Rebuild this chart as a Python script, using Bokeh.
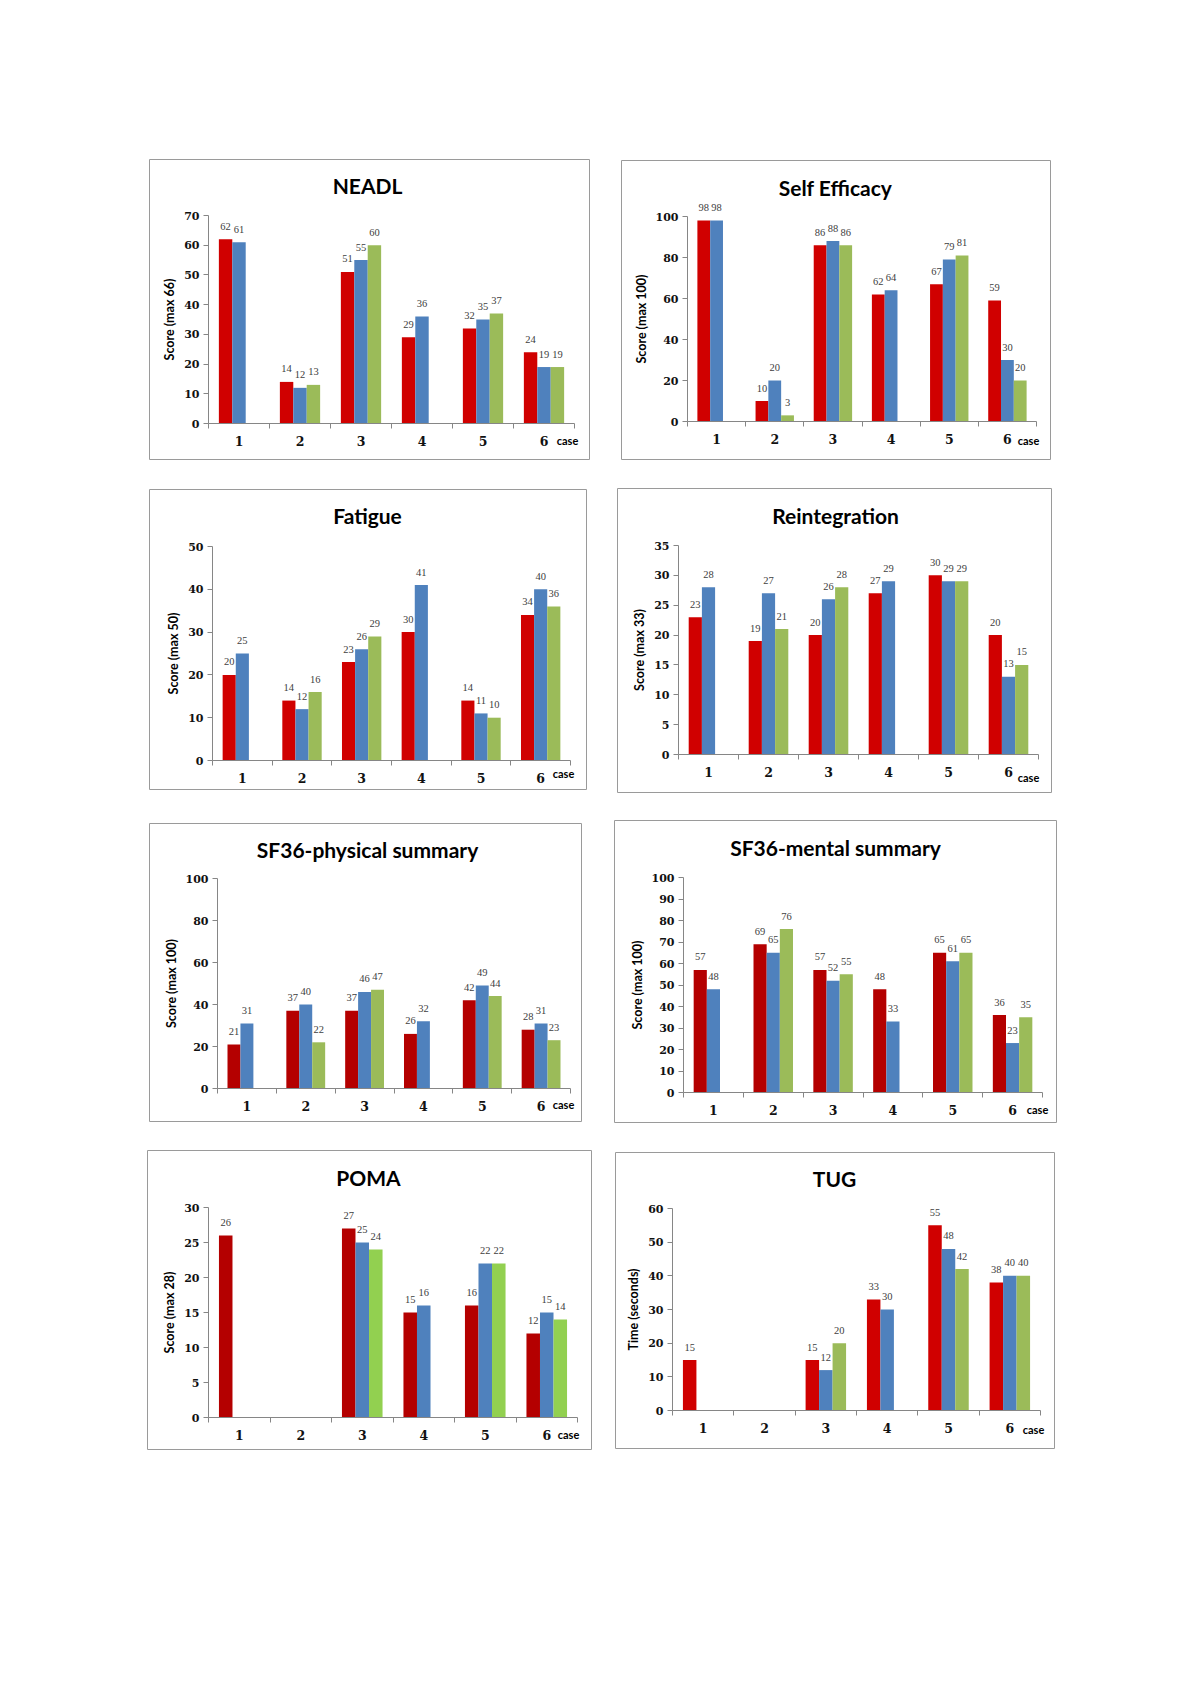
from bokeh.plotting import figure
from bokeh.models import ColumnDataSource, Range1d, FixedTicker, Label, LabelSet, Spacer
from bokeh.layouts import column, row
from bokeh.embed import file_html
from bokeh.resources import INLINE

cases = [1, 2, 3, 4, 5, 6]
case_labels = ["1", "2", "3", "4", "5", "6"]

neadl_s1 = [62, 14, 51, 29, 32, 24]
neadl_s2 = [61, 12, 55, 36, 35, 19]
neadl_s3 = [None, 13, 60, None, 37, 19]

selfeff_s1 = [98, 10, 86, 62, 67, 59]
selfeff_s2 = [98, 20, 88, 64, 79, 30]
selfeff_s3 = [None, 3, 86, None, 81, 20]

fatigue_s1 = [20, 14, 23, 30, 14, 34]
fatigue_s2 = [25, 12, 26, 41, 11, 40]
fatigue_s3 = [None, 16, 29, None, 10, 36]

reint_s1 = [23, 19, 20, 27, 30, 20]
reint_s2 = [28, 27, 26, 29, 29, 13]
reint_s3 = [None, 21, 28, None, 29, 15]

sf36p_s1 = [21, 37, 37, 26, 42, 28]
sf36p_s2 = [31, 40, 46, 32, 49, 31]
sf36p_s3 = [None, 22, 47, None, 44, 23]

sf36m_s1 = [57, 69, 57, 48, 65, 36]
sf36m_s2 = [48, 65, 52, 33, 61, 23]
sf36m_s3 = [None, 76, 55, None, 65, 35]

poma_s1 = [26, None, 27, 15, 16, 12]
poma_s2 = [None, None, 25, 16, 22, 15]
poma_s3 = [None, None, 24, None, 22, 14]

tug_s1 = [15, None, 15, 33, 55, 38]
tug_s2 = [None, None, 12, 30, 48, 40]
tug_s3 = [None, None, 20, None, 42, 40]

RED = "#D00000"
DARKRED = "#B40000"
BLUE = "#4F81BD"
GREEN = "#9BBB59"
LIME = "#92D050"

panels = [
    dict(title="NEADL", ylabel="Score (max 66)", ymax=70, ystep=10,
         series=[neadl_s1, neadl_s2, neadl_s3], colors=[RED, BLUE, GREEN],
         box=(149, 159, 441, 301), frame=(208, 215, 574, 423), t=(367, 185), c=(567, 440)),
    dict(title="Self Efficacy", ylabel="Score (max 100)", ymax=100, ystep=20,
         series=[selfeff_s1, selfeff_s2, selfeff_s3], colors=[RED, BLUE, GREEN],
         box=(621, 160, 430, 300), frame=(687, 216, 1036, 421), t=(835, 187), c=(1028, 440)),
    dict(title="Fatigue", ylabel="Score (max 50)", ymax=50, ystep=10,
         series=[fatigue_s1, fatigue_s2, fatigue_s3], colors=[RED, BLUE, GREEN],
         box=(149, 489, 438, 301), frame=(212, 546, 570, 760), t=(367, 515), c=(563, 773)),
    dict(title="Reintegration", ylabel="Score (max 33)", ymax=35, ystep=5,
         series=[reint_s1, reint_s2, reint_s3], colors=[RED, BLUE, GREEN],
         box=(617, 488, 435, 305), frame=(678, 545, 1038, 754), t=(835, 515), c=(1028, 777)),
    dict(title="SF36-physical summary", ylabel="Score (max 100)", ymax=100, ystep=20,
         series=[sf36p_s1, sf36p_s2, sf36p_s3], colors=[DARKRED, BLUE, GREEN],
         box=(149, 823, 433, 299), frame=(217, 878, 570, 1088), t=(367, 849), c=(563, 1104)),
    dict(title="SF36-mental summary", ylabel="Score (max 100)", ymax=100, ystep=10,
         series=[sf36m_s1, sf36m_s2, sf36m_s3], colors=[DARKRED, BLUE, GREEN],
         box=(614, 820, 443, 303), frame=(683, 877, 1042, 1092), t=(835, 847), c=(1037, 1109)),
    dict(title="POMA", ylabel="Score (max 28)", ymax=30, ystep=5,
         series=[poma_s1, poma_s2, poma_s3], colors=[DARKRED, BLUE, LIME],
         box=(147, 1150, 445, 300), frame=(208, 1207, 577, 1417), t=(368, 1177), c=(568, 1434)),
    dict(title="TUG", ylabel="Time (seconds)", ymax=60, ystep=10,
         series=[tug_s1, tug_s2, tug_s3], colors=[RED, BLUE, GREEN],
         box=(615, 1152, 440, 297), frame=(672, 1208, 1040, 1410), t=(834, 1178), c=(1033, 1429)),
]

OFFSETS = [-0.22, 0.0, 0.22]
BAR_W = 0.22
SANS = "Lato"
SERIF = "DejaVu Serif"
AXIS_GRAY = "#868686"
ORIGIN = 0


def make_panel(cfg):
    bx, by, bw, bh = cfg["box"]
    fl, ft, fr, fb = cfg["frame"]
    ymax = cfg["ymax"]

    # pixel -> data mapping defined by where the axes sit inside the panel box
    def xd(px):
        return 0.5 + (px - fl) / (fr - fl) * 6.0

    def yd(py):
        return ymax * (fb - py) / (fb - ft)

    p = figure(width=bw, height=bh, output_backend="svg", toolbar_location=None,
               x_range=Range1d(xd(bx), xd(bx + bw)), y_range=Range1d(yd(by + bh), yd(by)),
               min_border=0, min_border_left=0, min_border_right=0,
               min_border_top=0, min_border_bottom=0, title_location=None)
    p.outline_line_color = "#9a9a9a"
    p.outline_line_width = 1
    p.xgrid.grid_line_color = None
    p.ygrid.grid_line_color = None
    p.background_fill_color = "white"
    p.border_fill_color = "white"

    for k in range(3):
        xs, tops, labs = [], [], []
        for c, v in zip(cases, cfg["series"][k]):
            if v is None:
                continue
            xs.append(c + OFFSETS[k])
            tops.append(v)
            labs.append(str(v))
        src = ColumnDataSource(dict(x=xs, top=tops, label=labs))
        p.vbar(x="x", top="top", width=BAR_W, bottom=0, source=src,
               fill_color=cfg["colors"][k], line_color=None)
        p.add_layout(LabelSet(x="x", y="top", text="label", source=src,
                              text_align="center", text_baseline="middle", y_offset=13,
                              text_font=SANS, text_font_size="10.5px", text_color="#404040"))

    xa = p.xaxis[0]
    xa.fixed_location = 0
    xa.bounds = (0.5, 6.5)
    xa.ticker = FixedTicker(ticks=cases, minor_ticks=[0.5 + i for i in range(7)])
    xa.major_label_overrides = {c: l for c, l in zip(cases, case_labels)}
    xa.major_tick_line_color = None
    xa.major_tick_out = 0
    xa.major_tick_in = 0
    xa.minor_tick_out = 5
    xa.minor_tick_in = 0
    xa.minor_tick_line_color = AXIS_GRAY
    xa.axis_line_color = AXIS_GRAY
    xa.major_label_standoff = 7
    xa.major_label_text_font = SERIF
    xa.major_label_text_font_style = "bold"
    xa.major_label_text_font_size = "12.5px"
    xa.major_label_text_color = "#111111"

    ya = p.yaxis[0]
    ya.fixed_location = 0.5
    ya.bounds = (0, ymax)
    ya.ticker = FixedTicker(ticks=list(range(0, ymax + 1, cfg["ystep"])), minor_ticks=[])
    ya.major_tick_out = 5
    ya.major_tick_in = 0
    ya.major_tick_line_color = AXIS_GRAY
    ya.minor_tick_line_color = None
    ya.axis_line_color = AXIS_GRAY
    ya.major_label_standoff = 4
    ya.major_label_text_font = SERIF
    ya.major_label_text_font_style = "bold"
    ya.major_label_text_font_size = "11px"
    ya.major_label_text_color = "#111111"
    ya.axis_label = cfg["ylabel"]
    ya.axis_label_text_font = SANS
    ya.axis_label_text_font_style = "bold"
    ya.axis_label_text_font_size = "12.5px"
    ya.axis_label_text_color = "#000000"
    ya.axis_label_standoff = 4

    tx, ty = cfg["t"]
    p.add_layout(Label(x=xd(tx), y=yd(ty), text=cfg["title"], text_align="center",
                       text_baseline="middle", text_font=SANS, text_font_style="bold",
                       text_font_size="21px", text_color="#000000"))
    cx, cy = cfg["c"]
    p.add_layout(Label(x=xd(cx), y=yd(cy), text="case", text_align="center",
                       text_baseline="middle", text_font=SANS, text_font_style="bold",
                       text_font_size="11px", text_color="#000000"))
    return p


figs = [make_panel(c) for c in panels]

rows = []
cur_y = ORIGIN
for i in range(0, 8, 2):
    a, b = panels[i], panels[i + 1]
    top = min(a["box"][1], b["box"][1])
    ax, ay, aw, ah = a["box"]
    bx, by, bw, bh = b["box"]
    items = [Spacer(width=ax - ORIGIN, height=1)]
    items.append(figs[i] if ay == top else column(Spacer(width=aw, height=ay - top), figs[i]))
    items.append(Spacer(width=bx - (ax + aw), height=1))
    items.append(figs[i + 1] if by == top else column(Spacer(width=bw, height=by - top), figs[i + 1]))
    rh = max(ay + ah, by + bh) - top
    if top - cur_y > 0:
        rows.append(Spacer(width=10, height=top - cur_y))
    rows.append(row(*items))
    cur_y = top + rh

layout = column(*rows)
open("out.html", "w").write(file_html(layout, INLINE))
